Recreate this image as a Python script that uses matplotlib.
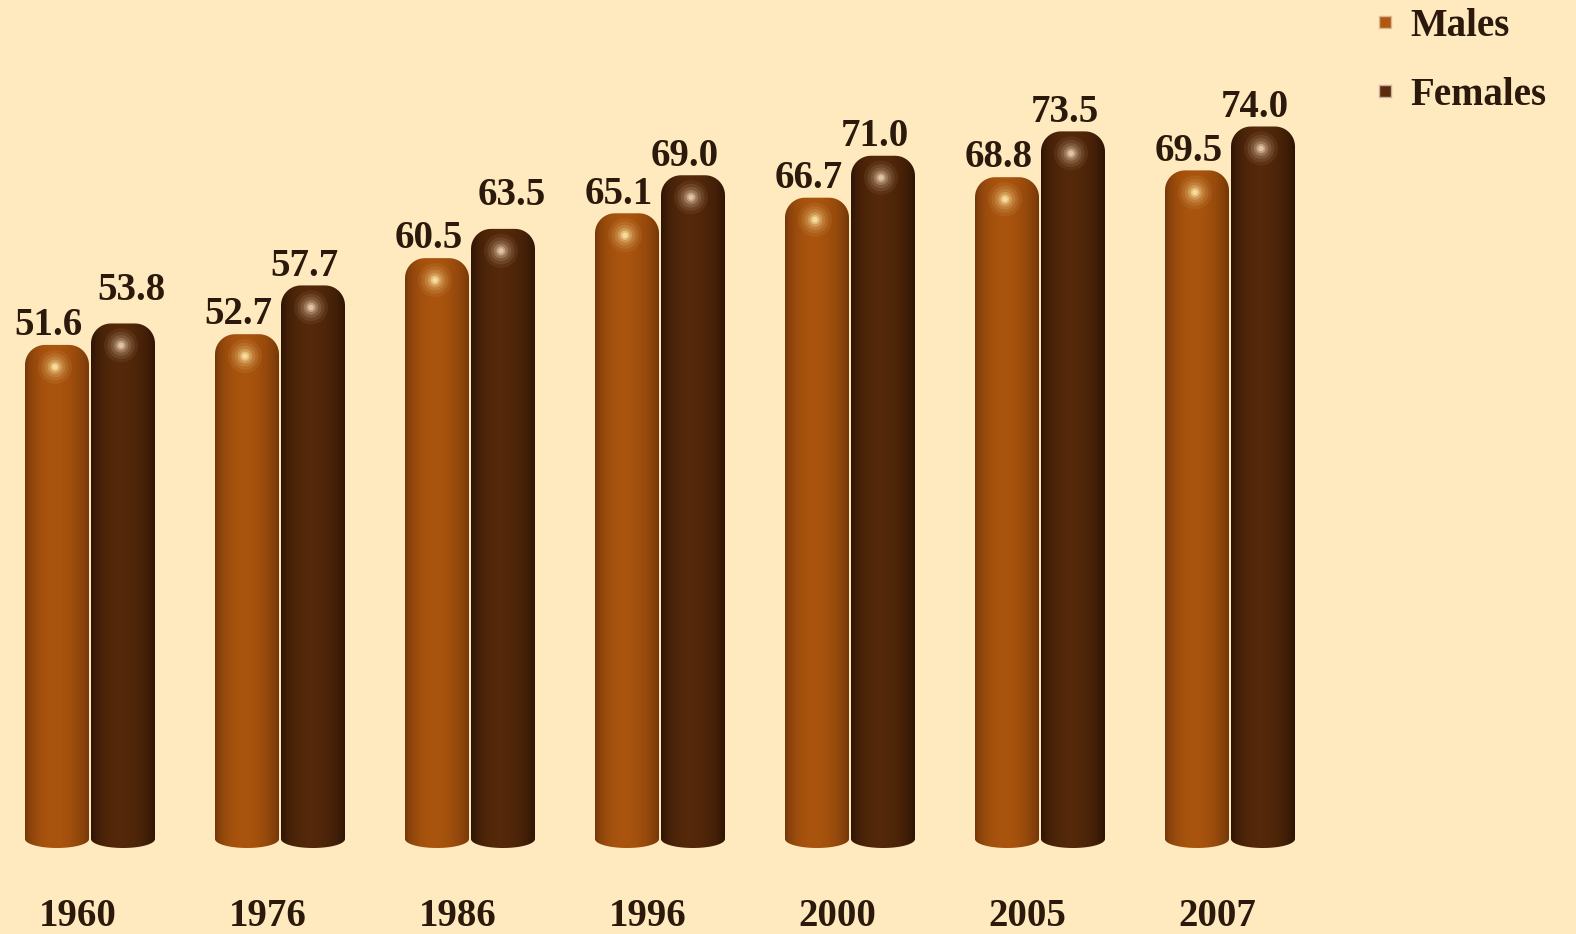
import numpy as np
import matplotlib.pyplot as plt
from matplotlib.path import Path
from matplotlib.patches import PathPatch
from matplotlib.lines import Line2D
from matplotlib.colors import to_rgb

# data
years = ["1960", "1976", "1986", "1996", "2000", "2005", "2007"]
males = [51.6, 52.7, 60.5, 65.1, 66.7, 68.8, 69.5]
females = [53.8, 57.7, 63.5, 69.0, 71.0, 73.5, 74.0]

BG = "#FFE9BE"
TXT = "#2B1A0C"
MALE_EDGE, MALE_MID, MALE_HI = "#6E3408", "#B2590F", "#FFE9A8"
FEM_EDGE, FEM_MID, FEM_HI = "#2A1204", "#5A2C0B", "#EFD2B4"

plt.rcParams["font.family"] = ["Liberation Serif", "DejaVu Serif"]
plt.rcParams["font.weight"] = "bold"

fig = plt.figure(figsize=(15.76, 9.34), dpi=100, facecolor=BG)
ax = fig.add_axes([0, 86 / 934, 1, 848 / 934])
ax.set_facecolor(BG)

px_x = 190.0   # pixels per category
px_y = 9.75    # pixels per unit of value
ax.set_xlim(-90 / px_x, (1576 - 90) / px_x)
ax.set_ylim(0, 848 / px_y)

w = 64 / px_x
off = 33 / px_x


def cylinder(xc, h, edge, mid, hi, z):
    x0, x1 = xc - w / 2, xc + w / 2
    rx, ry = 20 / px_x, 20 / px_y
    ryb = 9 / px_y
    a = np.linspace(np.pi, np.pi / 2, 12)
    tl = np.c_[x0 + rx + rx * np.cos(a), h - ry + ry * np.sin(a)]
    a = np.linspace(np.pi / 2, 0, 12)
    tr = np.c_[x1 - rx + rx * np.cos(a), h - ry + ry * np.sin(a)]
    a = np.linspace(0, -np.pi, 30)
    bot = np.c_[xc + (w / 2) * np.cos(a), ryb + ryb * np.sin(a)]
    pts = np.vstack([[[x0, ryb]], tl, tr, bot, [[x0, ryb]]])
    patch = PathPatch(Path(pts), facecolor="none", edgecolor="none", zorder=z)
    ax.add_patch(patch)

    # horizontal shading across the cylinder
    t = np.linspace(0, 1, 200)
    k = np.clip(np.sin(np.pi * t) ** 0.6 * (1 - 0.25 * t), 0, 1)
    e, m = np.array(to_rgb(edge)), np.array(to_rgb(mid))
    row = e[None, :] + (m - e)[None, :] * k[:, None]
    img = ax.imshow(row[None, :, :], extent=[x0, x1, 0, h], aspect="auto",
                    interpolation="bicubic", zorder=z)
    img.set_clip_path(patch)

    # highlight spot near the top
    hy = h - 22 / px_y
    for s, al in [(600, 0.07), (380, 0.1), (220, 0.15), (110, 0.25), (45, 0.45), (15, 0.7)]:
        sc = ax.scatter([xc - 2 / px_x], [hy], s=s, color=hi, alpha=al,
                        edgecolors="none", zorder=z + 0.1)
        sc.set_clip_path(patch)


x = np.arange(len(years))
for i in x:
    cylinder(i - off, males[i], MALE_EDGE, MALE_MID, MALE_HI, 2)
    cylinder(i + off, females[i], FEM_EDGE, FEM_MID, FEM_HI, 3)
    ax.annotate(f"{males[i]:.1f}", (i - off, males[i]), xytext=(-6, 7),
                textcoords="offset points", ha="center", va="baseline",
                fontsize=28, fontweight="bold", color=TXT)
    # lift the female label when the two labels would collide
    close = (females[i] - males[i]) * px_y < 32
    dx, dy = (6, 17) if close else (-6, 7)
    ax.annotate(f"{females[i]:.1f}", (i + off, females[i]), xytext=(dx, dy),
                textcoords="offset points", ha="center", va="baseline",
                fontsize=28, fontweight="bold", color=TXT)

# year labels under each pair
for i in x:
    ax.annotate(years[i], (i, 0), xytext=(-9, -49), textcoords="offset points",
                ha="center", va="center", fontsize=28, fontweight="bold",
                color=TXT, annotation_clip=False)

ax.set_xticks([])
ax.set_yticks([])
for sp in ax.spines.values():
    sp.set_visible(False)

handles = [Line2D([], [], marker="s", linestyle="none", markersize=8,
                  markerfacecolor=MALE_MID, markeredgecolor="#d9b89a"),
           Line2D([], [], marker="s", linestyle="none", markersize=8,
                  markerfacecolor=FEM_MID, markeredgecolor="#c9b0a0")]
leg = fig.legend(handles, ["Males", "Females"], loc="upper left",
                 bbox_to_anchor=(1340 / 1576, 1.029), frameon=False,
                 prop={"size": 28, "weight": "bold"}, labelspacing=0.82,
                 handlelength=0.5, handletextpad=0.4)
for t in leg.get_texts():
    t.set_color(TXT)

fig.savefig("out.png", dpi=100, facecolor=BG)
